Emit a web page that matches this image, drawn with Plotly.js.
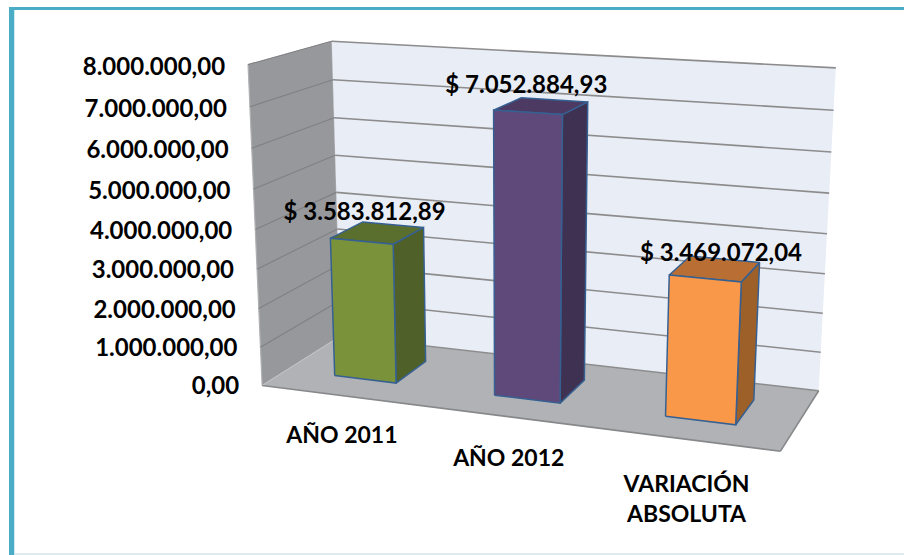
<!DOCTYPE html>
<html><head><meta charset="utf-8">
<script src="https://cdn.plot.ly/plotly-3.0.1.min.js"></script>
<style>html,body{margin:0;padding:0;background:#fff}#c{width:904px;height:555px}</style>
</head><body><div id="c"></div>
<script>
const categories = ["AÑO 2011", "AÑO 2012", "VARIACIÓN<br>ABSOLUTA"];
const values = [3583812.89, 7052884.93, 3469072.04];
const dataLabels = ["$ 3.583.812,89", "$ 7.052.884,93", "$ 3.469.072,04"];
const axisValues = [0, 1000000, 2000000, 3000000, 4000000, 5000000, 6000000, 7000000, 8000000];
const axisLabels = ["0,00", "1.000.000,00", "2.000.000,00", "3.000.000,00", "4.000.000,00", "5.000.000,00", "6.000.000,00", "7.000.000,00", "8.000.000,00"];

const FONT = "Lato, 'Open Sans', sans-serif";
const VMAX = 8000000;
// Camera calibration: box corners (u, value, depth) seen at (px, py), with fit weight
const calib = [
  [0,0,0,263,385,3],[0,0,1,332,340,1],[0,VMAX,1,333,41,3],[0,VMAX,0,247,65,3],
  [1,VMAX,1,834,68,1],[1,0,1,819,389,1],[1,0,0,782,453,1]
];
function solve(A,b){const n=b.length;for(let i=0;i<n;i++){let p=i;for(let r=i+1;r<n;r++)if(Math.abs(A[r][i])>Math.abs(A[p][i]))p=r;[A[i],A[p]]=[A[p],A[i]];[b[i],b[p]]=[b[p],b[i]];
  for(let r=i+1;r<n;r++){const f=A[r][i]/A[i][i];for(let c=i;c<n;c++)A[r][c]-=f*A[i][c];b[r]-=f*b[i];}}
  const x=Array(n).fill(0);for(let i=n-1;i>=0;i--){let s=b[i];for(let c=i+1;c<n;c++)s-=A[i][c]*x[c];x[i]=s/A[i][i];}return x;}
const M=(()=>{const rows=[],rhs=[];
  calib.forEach(([u,v,w,px,py,k])=>{const V=v/VMAX;
    rows.push([u,V,w,1,0,0,0,0,-px*u/500,-px*V/500,-px*w/500].map(e=>e*k));rhs.push(k*px/500);
    rows.push([0,0,0,0,u,V,w,1,-py*u/500,-py*V/500,-py*w/500].map(e=>e*k));rhs.push(k*py/500);});
  const n=11,A=Array.from({length:n},()=>Array(n).fill(0)),b=Array(n).fill(0);
  rows.forEach((r,k)=>{for(let i=0;i<n;i++){b[i]+=r[i]*rhs[k];for(let j=0;j<n;j++)A[i][j]+=r[i]*r[j];}});
  return solve(A,b);})();
function proj(u,v,w){const V=v/VMAX,d=M[8]*u+M[9]*V+M[10]*w+1;
  return [500*(M[0]*u+M[1]*V+M[2]*w+M[3])/d,500*(M[4]*u+M[5]*V+M[6]*w+M[7])/d];}

const traces=[];
function poly(pts,fill,line,width,closed){
  const p=pts.map(q=>proj(q[0],q[1],q[2]));
  if(closed!==false)p.push(p[0]);
  traces.push({type:'scatter',mode:(width>0?'lines':'none'),x:p.map(a=>a[0]),y:p.map(a=>a[1]),
    fill:fill?'toself':'none',fillcolor:fill||undefined,hoverinfo:'skip',showlegend:false,
    line:{color:line||'rgba(0,0,0,0)',width:width||0,shape:'linear'}});
}
// walls and floor
poly([[0,0,0],[0,VMAX,0],[0,VMAX,1],[0,0,1]],'#97989C','#B0B1B3',1.2);
poly([[0,0,1],[0,VMAX,1],[1,VMAX,1],[1,0,1]],'#E8EDF6',null,0);
poly([[0,0,0],[0,0,1],[1,0,1],[1,0,0]],'#B0B2B6',null,0);
axisValues.slice(1).forEach(v=>{
  poly([[0,v,0],[0,v,1]],null,'#808184',1.2,false);
  poly([[0,v,1],[1,v,1]],null,'#8C8C8C',1.6,false);
});
poly([[0,0,0],[0,0,1]],null,'#C4C5C7',1,false);
poly([[0,0,1],[1,0,1]],null,'#8C8C8C',1.4,false);
poly([[0,0,0],[1,0,0]],null,'#87888A',1.6,false);
poly([[1,0,0],[1,0,1]],null,'#87888A',1.6,false);

// bars
const barCenters=[0.168,0.5,0.832], barHalf=0.065, depth0=0.3, depth1=0.72;
const barColors=[["#7A933B","#4F6128","#5A6E2D"],["#5F497A","#3F3151","#4C3A62"],["#FA984A","#9C6028","#B96F33"]];
const EDGE='#366092';
values.forEach((val,i)=>{
  const a=barCenters[i]-barHalf,b=barCenters[i]+barHalf,c=barColors[i];
  poly([[b,0,depth0],[b,val,depth0],[b,val,depth1],[b,0,depth1]],c[1],EDGE,1.5);
  poly([[a,val,depth0],[a,val,depth1],[b,val,depth1],[b,val,depth0]],c[2],EDGE,1.5);
  poly([[a,0,depth0],[a,val,depth0],[b,val,depth0],[b,0,depth0]],c[0],EDGE,1.5);
});

function text(xs,ys,strs,pos,size){
  traces.push({type:'scatter',mode:'text',x:xs,y:ys,text:strs,textposition:pos,hoverinfo:'skip',showlegend:false,
    cliponaxis:false,textfont:{family:FONT,size:size,color:'#000',weight:700}});
}
// axis tick labels, hung off the front-left wall edge
const tickP=axisValues.map(v=>proj(0,v,0));
text(tickP.map(p=>p[0]-23),tickP.map((p,i)=>p[1]+2.5+axisValues[i]/VMAX*2),axisLabels,'middle left',24);
// data labels, above each bar's top
const labP=values.map((v,i)=>proj(barCenters[i],v,(depth0+depth1)/2));
const labDx=[-13,-15,6], labDy=[-19,-19,-14];
text(labP.map((p,i)=>p[0]+labDx[i]),labP.map((p,i)=>p[1]+labDy[i]),dataLabels,'middle center',24);
// category labels
const catP=barCenters.map(u=>proj(u,0,0));
const catDx=[0,1,1], catDy=[42,44,62];
text(catP.map((p,i)=>p[0]+catDx[i]),catP.map((p,i)=>p[1]+catDy[i]),categories,'middle center',23);

const layout={width:904,height:555,margin:{l:0,r:0,t:0,b:0},paper_bgcolor:'#fff',plot_bgcolor:'#fff',showlegend:false,
  xaxis:{range:[0,904],visible:false,fixedrange:true},
  yaxis:{range:[555,0],visible:false,fixedrange:true},
  shapes:[
    {type:'rect',layer:'below',x0:9,x1:904,y0:7,y1:10,fillcolor:'#4BACC6',line:{width:0}},
    {type:'rect',layer:'below',x0:9,x1:14,y0:7,y1:555,fillcolor:'#4BACC6',line:{width:0}},
    {type:'rect',layer:'below',x0:14,x1:15,y0:10,y1:555,fillcolor:'#CDEBF2',line:{width:0}},
    {type:'rect',layer:'below',x0:15,x1:904,y0:553,y1:555,fillcolor:'#DDEBF0',line:{width:0}}
  ]};
Plotly.newPlot('c',traces,layout,{displayModeBar:false,staticPlot:true});
</script></body></html>
